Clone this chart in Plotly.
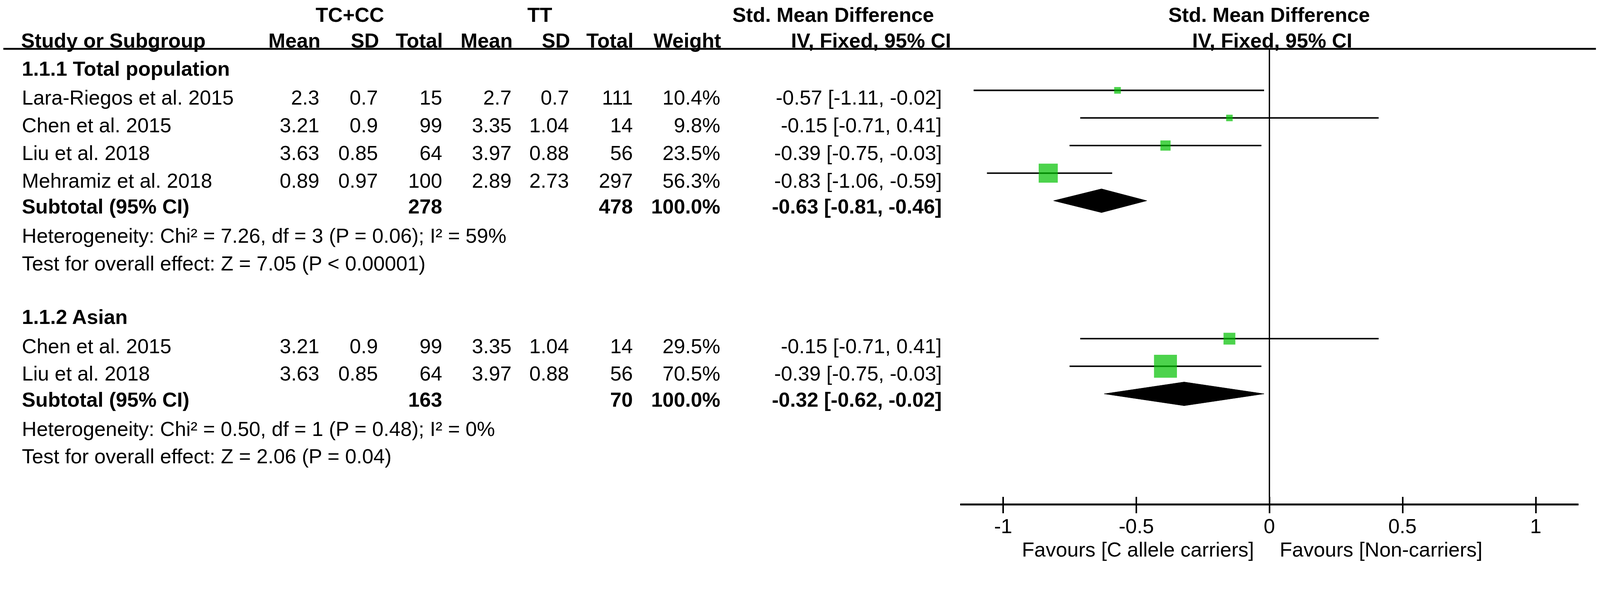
import plotly.graph_objects as go

# ---------------- data ----------------
g1_title = "1.1.1 Total population"
g1_study = ["Lara-Riegos et al. 2015", "Chen et al. 2015", "Liu et al. 2018", "Mehramiz et al. 2018"]
g1_mean_c = [2.3, 3.21, 3.63, 0.89]
g1_sd_c = [0.7, 0.9, 0.85, 0.97]
g1_n_c = [15, 99, 64, 100]
g1_mean_t = [2.7, 3.35, 3.97, 2.89]
g1_sd_t = [0.7, 1.04, 0.88, 2.73]
g1_n_t = [111, 14, 56, 297]
g1_weight = [10.4, 9.8, 23.5, 56.3]
g1_smd = [-0.57, -0.15, -0.39, -0.83]
g1_lo = [-1.11, -0.71, -0.75, -1.06]
g1_hi = [-0.02, 0.41, -0.03, -0.59]
g1_sub_n = [278, 478]
g1_sub_est = [-0.63, -0.81, -0.46]
g1_het = "Heterogeneity: Chi² = 7.26, df = 3 (P = 0.06); I² = 59%"
g1_test = "Test for overall effect: Z = 7.05 (P < 0.00001)"

g2_title = "1.1.2 Asian"
g2_study = ["Chen et al. 2015", "Liu et al. 2018"]
g2_mean_c = [3.21, 3.63]
g2_sd_c = [0.9, 0.85]
g2_n_c = [99, 64]
g2_mean_t = [3.35, 3.97]
g2_sd_t = [1.04, 0.88]
g2_n_t = [14, 56]
g2_weight = [29.5, 70.5]
g2_smd = [-0.15, -0.39]
g2_lo = [-0.71, -0.75]
g2_hi = [0.41, -0.03]
g2_sub_n = [163, 70]
g2_sub_est = [-0.32, -0.62, -0.02]
g2_het = "Heterogeneity: Chi² = 0.50, df = 1 (P = 0.48); I² = 0%"
g2_test = "Test for overall effect: Z = 2.06 (P = 0.04)"

tick_vals = [-1, -0.5, 0, 0.5, 1]
tick_text = ["-1", "-0.5", "0", "0.5", "1"]
favours_left = "Favours [C allele carriers]"
favours_right = "Favours [Non-carriers]"

# ---------------- geometry (reference pixels -> page pixels) ----------------
REF_W, REF_H = 4317, 1527
S = 4096 / REF_W          # page CSS pixels per reference pixel
M = 8                     # body margin of the page
WF = round(REF_W * S) - 2 * M
HF = round(REF_H * S) - 2 * M


def fx(p):      # reference x pixel -> paper x
    return (p * S - M) / WF


def fy(p):      # reference y pixel -> paper y
    return 1 - (p * S - M) / HF


FONT = "Liberation Sans, Arial, sans-serif"
FS = 55 * S
ROW_PX = 74.5
ROW0_PX = 169.5
TEXT_SHIFT = -20 * S
HEAD_SHIFT = -15.5 * S     # section titles / subtotal rows sit a bit higher
GREEN = "#00C000"
HEADER_LINE_PX = 132
AXIS_PX = 1362

groups = [
    dict(title=g1_title, study=g1_study, mc=g1_mean_c, sc=g1_sd_c, nc=g1_n_c, mt=g1_mean_t,
         st=g1_sd_t, nt=g1_n_t, w=g1_weight, est=g1_smd, lo=g1_lo, hi=g1_hi,
         sub_n=g1_sub_n, sub=g1_sub_est, het=g1_het, test=g1_test),
    dict(title=g2_title, study=g2_study, mc=g2_mean_c, sc=g2_sd_c, nc=g2_n_c, mt=g2_mean_t,
         st=g2_sd_t, nt=g2_n_t, w=g2_weight, est=g2_smd, lo=g2_lo, hi=g2_hi,
         sub_n=g2_sub_n, sub=g2_sub_est, het=g2_het, test=g2_test),
]

col_right = dict(mc=864, sc=1022, nc=1195, mt=1383, st=1538, nt=1710, w=1946, ci=2543)
LEFT_X = 57

ann = []


def txt(s, xpx, y, anchor="left", bold=False, yref="y", shift=TEXT_SHIFT):
    ann.append(dict(text=f"<b>{s}</b>" if bold else s, x=fx(xpx), xref="paper", y=y, yref=yref,
                    xanchor=anchor, yanchor="middle", yshift=shift, showarrow=False,
                    font=dict(size=FS, color="black", family=FONT)))


def fmt_ci(e, l, h):
    return f"{e:.2f} [{l:.2f}, {h:.2f}]"


fig = go.Figure()

r = 0
for g in groups:
    txt(g["title"], LEFT_X, r, bold=True, shift=HEAD_SHIFT)
    n = len(g["study"])
    rows = [r + 1 + i for i in range(n)]
    for i, yy in enumerate(rows):
        txt(g["study"][i], LEFT_X, yy)
        txt(f"{g['mc'][i]:g}", col_right["mc"], yy, "right")
        txt(f"{g['sc'][i]:g}", col_right["sc"], yy, "right")
        txt(f"{g['nc'][i]}", col_right["nc"], yy, "right")
        txt(f"{g['mt'][i]:g}", col_right["mt"], yy, "right")
        txt(f"{g['st'][i]:g}", col_right["st"], yy, "right")
        txt(f"{g['nt'][i]}", col_right["nt"], yy, "right")
        txt(f"{g['w'][i]:.1f}%", col_right["w"], yy, "right")
        txt(fmt_ci(g["est"][i], g["lo"][i], g["hi"][i]), col_right["ci"], yy, "right")
    xs, ys = [], []
    for i, yy in enumerate(rows):
        xs += [g["lo"][i], g["hi"][i], None]
        ys += [yy, yy, None]
    fig.add_trace(go.Scatter(x=xs, y=ys, mode="lines", line=dict(color="black", width=4 * S),
                             hoverinfo="skip", showlegend=False))
    fig.add_trace(go.Scatter(x=g["est"], y=rows, mode="markers",
                             marker=dict(symbol="square", color=GREEN,
                                         size=[(10.4 + 0.73 * w) * S for w in g["w"]],
                                         line=dict(width=0)),
                             hoverinfo="skip", showlegend=False))
    rs = r + 1 + n
    txt("Subtotal (95% CI)", LEFT_X, rs, bold=True, shift=HEAD_SHIFT)
    txt(f"{g['sub_n'][0]}", col_right["nc"], rs, "right", bold=True, shift=HEAD_SHIFT)
    txt(f"{g['sub_n'][1]}", col_right["nt"], rs, "right", bold=True, shift=HEAD_SHIFT)
    txt("100.0%", col_right["w"], rs, "right", bold=True, shift=HEAD_SHIFT)
    txt(fmt_ci(*g["sub"]), col_right["ci"], rs, "right", bold=True, shift=HEAD_SHIFT)
    e, l, h = g["sub"]
    hh = 0.43
    fig.add_trace(go.Scatter(x=[l, e, h, e, l], y=[rs, rs - hh, rs, rs + hh, rs], mode="lines",
                             fill="toself", fillcolor="black", line=dict(color="black", width=1),
                             hoverinfo="skip", showlegend=False))
    txt(g["het"], LEFT_X, rs + 1)
    txt(g["test"], LEFT_X, rs + 2)
    r = rs + 4

# ---------------- headers ----------------
HDR1, HDR2 = 40, 110
txt("TC+CC", 944, fy(HDR1), "center", bold=True, yref="paper", shift=0)
txt("TT", 1457, fy(HDR1), "center", bold=True, yref="paper", shift=0)
txt("Std. Mean Difference", 2248, fy(HDR1), "center", bold=True, yref="paper", shift=0)
txt("Std. Mean Difference", 3424, fy(HDR1), "center", bold=True, yref="paper", shift=0)
txt("Study or Subgroup", 55, fy(HDR2), "left", bold=True, yref="paper", shift=0)
for key, lab in [("mc", "Mean"), ("sc", "SD"), ("nc", "Total"), ("mt", "Mean"), ("st", "SD"),
                 ("nt", "Total"), ("w", "Weight")]:
    txt(lab, col_right[key] + 2, fy(HDR2), "right", bold=True, yref="paper", shift=0)
txt("IV, Fixed, 95% CI", 2569, fy(HDR2), "right", bold=True, yref="paper", shift=0)
txt("IV, Fixed, 95% CI", 3433, fy(HDR2), "center", bold=True, yref="paper", shift=0)

# tick labels of the effect axis (placed on the axis scale)
for v, t in zip(tick_vals, tick_text):
    ann.append(dict(text=t, x=v, xref="x", y=fy(1421), yref="paper", xanchor="center",
                    yanchor="middle", showarrow=False,
                    font=dict(size=FS, color="black", family=FONT)))

FAV_Y = 1484
ann.append(dict(text=favours_left, x=0, xref="x", y=fy(FAV_Y), yref="paper", xanchor="right",
                yanchor="middle", xshift=-40 * S, showarrow=False,
                font=dict(size=FS, color="black", family=FONT)))
ann.append(dict(text=favours_right, x=0, xref="x", y=fy(FAV_Y), yref="paper", xanchor="left",
                yanchor="middle", xshift=26 * S, showarrow=False,
                font=dict(size=FS, color="black", family=FONT)))

fig.add_trace(go.Scatter(x=[0], y=[-100], xaxis="x2", mode="markers", marker=dict(opacity=0),
                         hoverinfo="skip", showlegend=False))

shapes = [
    dict(type="line", xref="paper", yref="paper", x0=fx(9), x1=fx(4306),
         y0=fy(HEADER_LINE_PX), y1=fy(HEADER_LINE_PX), line=dict(color="black", width=5 * S)),
    dict(type="line", xref="x", yref="paper", x0=0, x1=0, y0=fy(HEADER_LINE_PX), y1=fy(AXIS_PX),
         line=dict(color="black", width=3.5 * S)),
]

dom = [fx(2591), fx(4259)]
axis_common = dict(domain=dom, range=[-1.16, 1.16], anchor="free", position=fy(AXIS_PX),
                   tickmode="array", tickvals=tick_vals, showgrid=False, zeroline=False,
                   tickwidth=4 * S, tickcolor="black", fixedrange=True, showticklabels=False)

y_top = (M / S - ROW0_PX) / ROW_PX
y_bot = ((HF + M) / S - ROW0_PX) / ROW_PX

fig.update_layout(
    width=WF, height=HF, margin=dict(l=0, r=0, t=0, b=0),
    paper_bgcolor="white", plot_bgcolor="white", showlegend=False,
    font=dict(family=FONT, size=FS, color="black"),
    xaxis=dict(**axis_common, showline=True, linewidth=5 * S, linecolor="black",
               ticks="outside", ticklen=21 * S),
    xaxis2=dict(**axis_common, overlaying="x", matches="x", ticks="inside", ticklen=20 * S,
                showline=False),
    yaxis=dict(domain=[0, 1], range=[y_bot, y_top], visible=False, fixedrange=True),
    annotations=ann,
    shapes=shapes,
)

fig.write_html("out.html")
